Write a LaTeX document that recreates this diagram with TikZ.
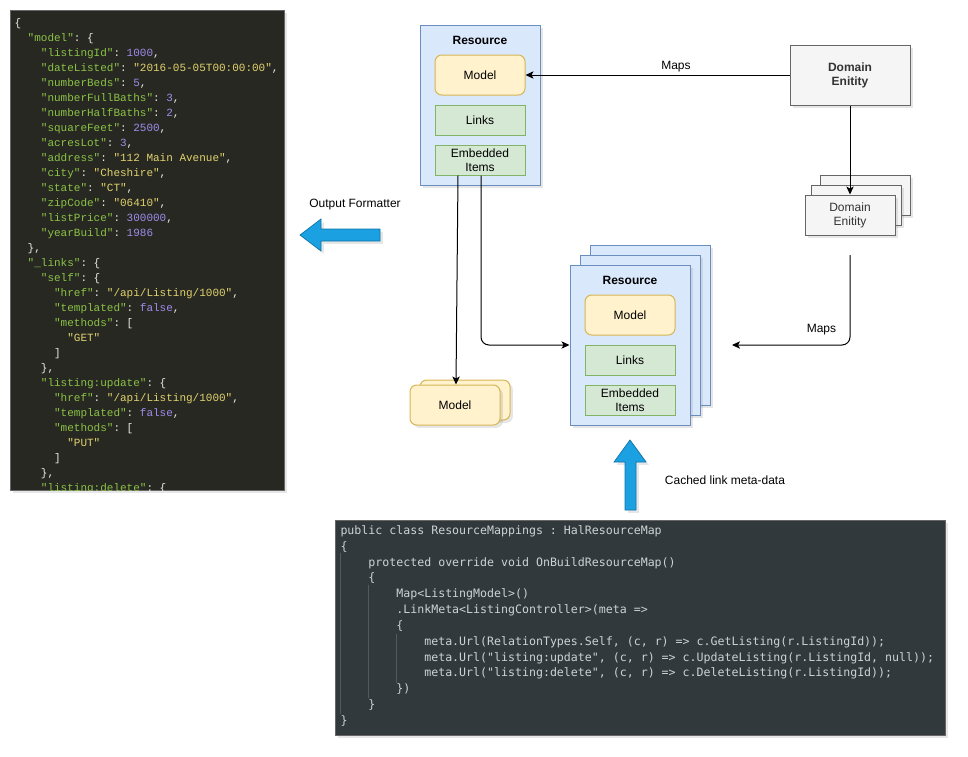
\documentclass[tikz,border=0pt]{standalone}
\usepackage{fontspec}
\setmainfont{Liberation Sans}
\setmonofont{Liberation Mono}
\newfontfamily\codefont{DejaVu Sans Mono}
\usepackage{xcolor}
\usetikzlibrary{arrows.meta,shadows}
\frenchspacing

\definecolor{resfill}{HTML}{DAE8FC}
\definecolor{resline}{HTML}{6C8EBF}
\definecolor{modfill}{HTML}{FFF2CC}
\definecolor{modline}{HTML}{D6B656}
\definecolor{lnkfill}{HTML}{D5E8D4}
\definecolor{lnkline}{HTML}{82B366}
\definecolor{domfill}{HTML}{F5F5F5}
\definecolor{domline}{HTML}{666666}
\definecolor{domtext}{HTML}{333333}
\definecolor{arrfill}{HTML}{1BA1E2}
\definecolor{arrline}{HTML}{0E72A8}
\definecolor{jsonbg}{RGB}{39,40,34}
\definecolor{jsonpunct}{RGB}{235,235,228}
\definecolor{jsonkey}{RGB}{140,195,70}
\definecolor{jsonstr}{RGB}{225,210,110}
\definecolor{jsonnum}{RGB}{160,140,235}
\definecolor{codebg}{RGB}{50,57,61}
\definecolor{codetext}{RGB}{205,210,210}
\definecolor{codeguide}{RGB}{82,90,94}

% json tokens
\newcommand\jk[1]{\textcolor{jsonkey}{"#1"}}
\newcommand\js[1]{\textcolor{jsonstr}{"#1"}}
\newcommand\jn[1]{\textcolor{jsonnum}{#1}}
\newcommand\ind[1]{\hspace*{#1\fontdimen2\font}}

\begin{document}
\begin{tikzpicture}[x=0.75pt,y=-0.75pt,line width=0.75pt,
  font=\fontsize{9pt}{10.5pt}\selectfont,
  shade/.style={drop shadow={shadow xshift=2.2pt,shadow yshift=-2.2pt,opacity=0.2}},
  resbox/.style={draw=resline,fill=resfill,minimum width=90pt,minimum height=120pt,shade},
  modbox/.style={draw=modline,fill=modfill,rounded corners=5pt,minimum width=67.5pt,minimum height=30pt},
  lnkbox/.style={draw=lnkline,fill=lnkfill,minimum width=67.5pt,minimum height=22.5pt,inner sep=0pt,align=center},
  dombox/.style={draw=domline,fill=domfill,text=domtext,minimum width=67.5pt,minimum height=30pt,align=center,shade},
  title/.style={font=\bfseries\fontsize{9pt}{10.5pt}\selectfont},
  conn/.style={draw=black,-{Stealth[length=6pt,width=5.5pt,inset=1.5pt]}},
  mapslbl/.style={fill=white,inner sep=1pt},
  blockarrow/.style={fill=arrfill,draw=arrline,line width=0.5pt,shade},
  panel/.style={draw=black!60,line width=0.5pt,anchor=north west,inner sep=0pt,shade}]
\useasboundingbox (0,0) rectangle (968,757);

% json output
\node[panel,fill=jsonbg,minimum width=205.5pt,minimum height=360pt] (jsonbox) at (10,10) {};
\begin{scope}
\clip (10,10) rectangle (284,490);
\node[anchor=north west,inner sep=0pt,align=left,text=jsonpunct,
  font=\ttfamily\fontsize{8.25pt}{11.25pt}\selectfont] (jsontext) at (14,18.5) {%
\{\\
\ind{2}\jk{model}: \{\\
\ind{4}\jk{listingId}: \jn{1000},\\
\ind{4}\jk{dateListed}: \js{2016-05-05T00:00:00},\\
\ind{4}\jk{numberBeds}: \jn{5},\\
\ind{4}\jk{numberFullBaths}: \jn{3},\\
\ind{4}\jk{numberHalfBaths}: \jn{2},\\
\ind{4}\jk{squareFeet}: \jn{2500},\\
\ind{4}\jk{acresLot}: \jn{3},\\
\ind{4}\jk{address}: \js{112 Main Avenue},\\
\ind{4}\jk{city}: \js{Cheshire},\\
\ind{4}\jk{state}: \js{CT},\\
\ind{4}\jk{zipCode}: \js{06410},\\
\ind{4}\jk{listPrice}: \jn{300000},\\
\ind{4}\jk{yearBuild}: \jn{1986}\\
\ind{2}\},\\
\ind{2}\jk{\_links}: \{\\
\ind{4}\jk{self}: \{\\
\ind{6}\jk{href}: \js{/api/Listing/1000},\\
\ind{6}\jk{templated}: \jn{false},\\
\ind{6}\jk{methods}: [\\
\ind{8}\js{GET}\\
\ind{6}]\\
\ind{4}\},\\
\ind{4}\jk{listing:update}: \{\\
\ind{6}\jk{href}: \js{/api/Listing/1000},\\
\ind{6}\jk{templated}: \jn{false},\\
\ind{6}\jk{methods}: [\\
\ind{8}\js{PUT}\\
\ind{6}]\\
\ind{4}\},\\
\ind{4}\jk{listing:delete}: \{};
\end{scope}

% mapping code
\node[panel,fill=codebg,minimum width=457.5pt,minimum height=161.25pt] (codebox) at (335,520) {};
\draw[codeguide,line width=0.5pt] (340,553) -- (340,714);
\draw[codeguide,line width=0.5pt] (368,585) -- (368,698);
\draw[codeguide,line width=0.5pt] (396,634) -- (396,683);
\node[anchor=north west,inner sep=0pt,align=left,text=codetext,
  font=\codefont\fontsize{8.7pt}{11.875pt}\selectfont] (codetext) at (340,525) {%
public class ResourceMappings : HalResourceMap\\
\{\\
\ind{4}protected override void OnBuildResourceMap()\\
\ind{4}\{\\
\ind{8}Map<ListingModel>()\\
\ind{8}.LinkMeta<ListingController>(meta =>\\
\ind{8}\{\\
\ind{12}meta.Url(RelationTypes.Self, (c, r) => c.GetListing(r.ListingId));\\
\ind{12}meta.Url("listing:update", (c, r) => c.UpdateListing(r.ListingId, null));\\
\ind{12}meta.Url("listing:delete", (c, r) => c.DeleteListing(r.ListingId));\\
\ind{8}\})\\
\ind{4}\}\\
\}};

% resource
\node[resbox] (res1) at (480,105) {};
\node[title] (res1t) at (480,40) {Resource};
\node[modbox] (mod1) at (480,75) {Model};
\node[lnkbox] (lnk1) at (480,120) {Links};
\node[lnkbox] (emb1) at (480,160) {Embedded\\Items};

% domain entity
\node[dombox,font=\bfseries\fontsize{9pt}{10.5pt}\selectfont,minimum width=90pt,minimum height=45pt] (dom) at (850,75) {Domain\\Enitity};
\node[dombox] (domb) at (865,195) {};
\node[dombox] (domm) at (856,205) {};
\node[dombox] (domf) at (850,215) {Domain\\Enitity};

% resource stack
\node[resbox] (res2b) at (650,325) {};
\node[resbox] (res2m) at (640,335) {};
\node[resbox] (res2f) at (630,345) {};
\node[title] (res2t) at (630,280) {Resource};
\node[modbox] (mod2) at (630,315) {Model};
\node[lnkbox] (lnk2) at (630,360) {Links};
\node[lnkbox] (emb2) at (630,400) {Embedded\\Items};

% model stack
\node[modbox,shade] (modb) at (465,400) {};
\node[modbox,shade] (modf) at (455,405) {Model};

\coordinate (mapsfrom) at (850,255);
\coordinate (mapsto) at (732,345);

\draw[conn] (dom.west) -- node[mapslbl,pos=0.43,yshift=6pt] (maps1) {Maps} (mod1.east);
\draw[conn] (dom.south) -- (domf.north);
\draw[conn,rounded corners=6pt] (mapsfrom) |- node[mapslbl,pos=0.5,anchor=south east,xshift=-9pt,yshift=6pt] (maps2) {Maps} (mapsto);
\draw[conn,rounded corners=6pt] ([xshift=0.75pt]emb1.south) |- (res2f.west);
\draw[conn] ([xshift=-16.5pt]emb1.south) -- ([xshift=0.75pt]modf.north);

% block arrows
\filldraw[blockarrow] (380,229) -- (321,229) -- (321,219) -- (300,235) -- (321,251) -- (321,241) -- (380,241) -- cycle;
\node (fmtlbl) at (355,205) {Output Formatter};
\filldraw[blockarrow] (625,510) -- (625,462) -- (614,462) -- (630,440) -- (646,462) -- (636,462) -- (636,510) -- cycle;
\node[anchor=west] (cachelbl) at (660,480) {Cached link meta-data};
\end{tikzpicture}
\end{document}
